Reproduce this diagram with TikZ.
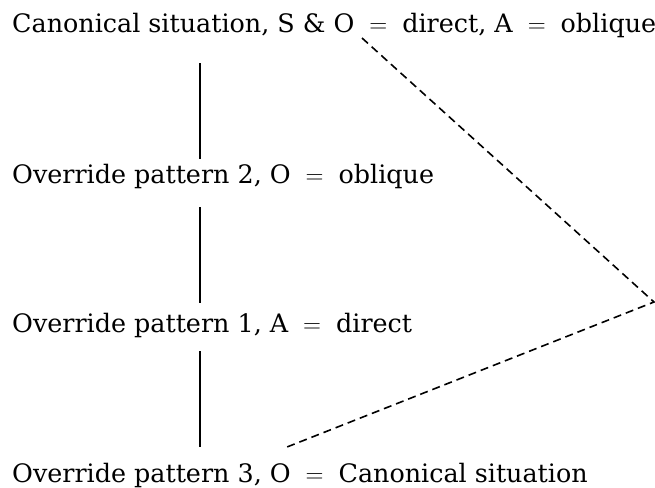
\documentclass[tikz,border=0pt]{standalone}
\usepackage{fontspec}
\setmainfont{DejaVu Serif}
\usetikzlibrary{positioning,calc}
\tikzset{
  level/.style ={anchor=base west, font=\fontsize{25.4}{30}\selectfont,
                 text height=20pt, text depth=15pt, inner xsep=0pt, inner ysep=9pt},
  branch/.style={draw=black, line width=1.6pt},
  link/.style  ={draw=black, line width=1.6pt, dash pattern=on 8pt off 5pt},
}

\begin{document}
\begin{tikzpicture}[x=1pt, y=-1pt]
  \useasboundingbox (0,0) rectangle (655,487);
  % the four levels
  \node[level] (canon) at (12,33)  {Canonical situation, S \& O ${}={}$ direct, A ${}={}$ oblique};
  \node[level] (over2) at (12,183) {Override pattern 2, O ${}={}$ oblique};
  \node[level] (over1) at (12,332) {Override pattern 1, A ${}={}$ direct};
  \node[level] (over3) at (12,482) {Override pattern 3, O ${}={}$ Canonical situation};

  % tree branches
  \coordinate (spine) at (200,0);
  \draw[branch] ($(canon.south -| spine)+(0,6)$) -- ($(over2.north -| spine)+(0,5)$);
  \draw[branch] (over2.south -| spine) -- (over1.north -| spine);
  \draw[branch] ($(over1.south -| spine)+(0,-5)$) -- ($(over3.north -| spine)+(0,-6)$);

  % dashed link back to the top
  \coordinate (tail) at (362,38);
  \coordinate (bend) at (654,302);
  \coordinate (head) at (287,447);
  \draw[link] (tail) -- (bend) -- (head);
\end{tikzpicture}
\end{document}
